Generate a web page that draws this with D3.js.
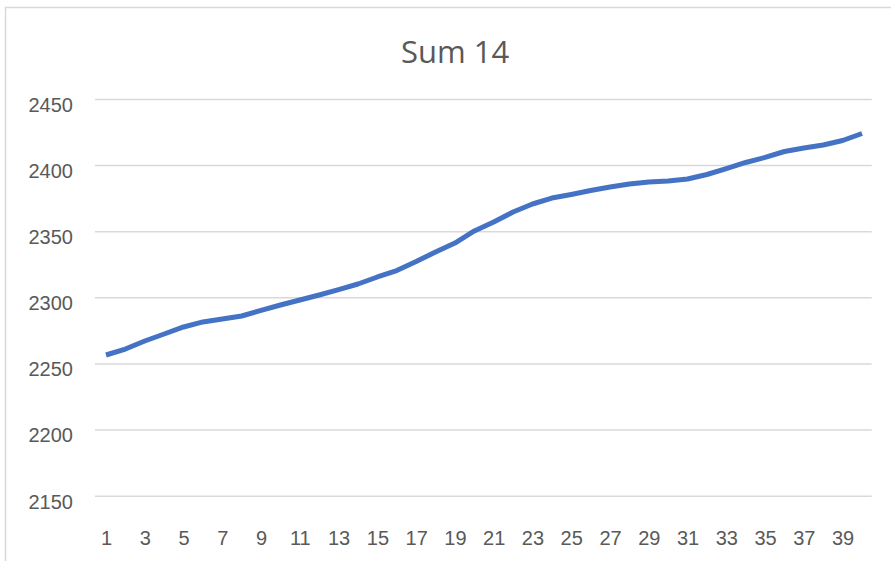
<!DOCTYPE html>
<html>
<head>
<meta charset="utf-8">
<script src="https://cdn.jsdelivr.net/npm/d3@7"></script>
<style>
  html, body { margin: 0; padding: 0; background: #fff; }
  svg { display: block; }
</style>
</head>
<body>
<div id="chart"></div>
<script>
// chart data
title = "Sum 14"
categories = [1, 2, 3, 4, 5, 6, 7, 8, 9, 10, 11, 12, 13, 14, 15, 16, 17, 18, 19, 20,
    21, 22, 23, 24, 25, 26, 27, 28, 29, 30, 31, 32, 33, 34, 35, 36, 37, 38, 39, 40]
sumValues = [2256.4, 2260.9, 2267.0, 2272.3, 2277.6, 2281.4, 2283.6, 2285.9, 2290.1, 2294.2,
    2298.0, 2301.8, 2305.9, 2310.1, 2315.4, 2320.3, 2327.1, 2334.3, 2341.1, 2350.2,
    2357.0, 2364.5, 2370.6, 2375.1, 2377.8, 2380.8, 2383.5, 2385.7, 2387.2, 2388.0,
    2389.5, 2392.9, 2397.4, 2402.0, 2405.8, 2410.3, 2413.0, 2415.2, 2418.6, 2423.9]
yTicks = [2150, 2200, 2250, 2300, 2350, 2400, 2450]
xTickLabels = [1, 3, 5, 7, 9, 11, 13, 15, 17, 19, 21, 23, 25, 27, 29, 31, 33, 35, 37, 39]

width = 891
height = 561
plotLeft = 96.3
plotRight = 871.7
plotTop = 99
plotBottom = 495.7
textColor = "#595959"
font = "'Open Sans', 'Noto Sans', sans-serif"

x = d3
    .scalePoint()
    .domain(categories)
    .range([plotLeft, plotRight])
    .padding(0.5)

y = d3
    .scaleLinear()
    .domain([yTicks[0], yTicks[yTicks.length - 1]])
    .range([plotBottom, plotTop])

const svg = d3.select("#chart")
    .append("svg")
    .attr("width", width)
    .attr("height", height)
    .style("font-family", font);

// chart area border (right and bottom edges fall outside the picture)
svg.append("rect")
    .attr("x", 5.5)
    .attr("y", 7.5)
    .attr("width", 1000)
    .attr("height", 1000)
    .attr("fill", "#fff")
    .attr("stroke", "#d9d9d9")
    .attr("stroke-width", 1.5);

svg.append("text")
    .attr("x", 455)
    .attr("y", 63)
    .attr("text-anchor", "middle")
    .attr("fill", textColor)
    .style("font-size", "31px")
    .text(title);

// value axis with gridlines
const yAxis = svg.append("g")
    .attr("transform", `translate(95,0)`)
    .call(d3.axisLeft(y)
        .tickValues(yTicks)
        .tickFormat(d3.format("d"))
        .tickSize(-(plotRight - 95))
        .tickPadding(22));

yAxis.select(".domain").remove();
yAxis.selectAll("line")
    .attr("stroke", "#d9d9d9")
    .attr("stroke-width", 1.5);
yAxis.selectAll("text")
    .attr("fill", textColor)
    .attr("dy", "0.62em")
    .style("font-size", "20px");

// category axis
const xAxis = svg.append("g")
    .attr("transform", `translate(0,538)`)
    .call(d3.axisBottom(x)
        .tickValues(xTickLabels)
        .tickSize(0));

xAxis.select(".domain").remove();
xAxis.selectAll("text")
    .attr("y", 0)
    .attr("dy", "0.35em")
    .attr("fill", textColor)
    .style("font-size", "20px");

const line = d3.line()
    .x((d, i) => x(categories[i]))
    .y(d => y(d));

svg.append("path")
    .datum(sumValues)
    .attr("fill", "none")
    .attr("stroke", "#4472C4")
    .attr("stroke-width", 5)
    .attr("stroke-linejoin", "round")
    .attr("d", line);
</script>
</body>
</html>
